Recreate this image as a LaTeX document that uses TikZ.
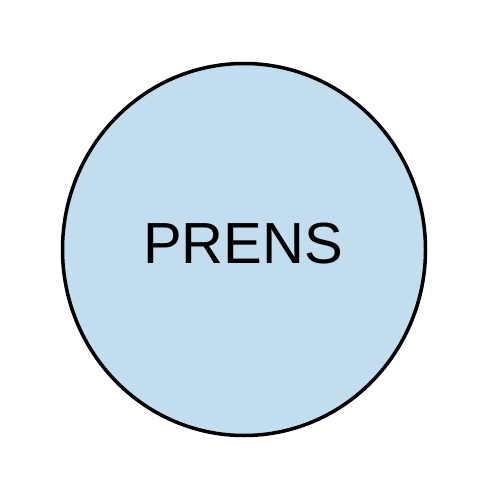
\documentclass[tikz,border=0pt]{standalone}
\usepackage{fontspec}
\setmainfont{Liberation Sans}
\usetikzlibrary{shapes.geometric,positioning}
\definecolor{prensblue}{RGB}{194,221,238}

\begin{document}
\begin{tikzpicture}[x=1pt, y=-1pt, every node/.style={font=\fontsize{58}{58}\selectfont}]
  \useasboundingbox (0,0) rectangle (500,500);
  \node[draw,ellipse,line width=3.5pt,fill=prensblue,minimum width=363pt,minimum height=372pt,inner sep=0pt] (prens) at (244,249.5) {};
  \node (label) at (243,244) {PRENS};
\end{tikzpicture}
\end{document}
